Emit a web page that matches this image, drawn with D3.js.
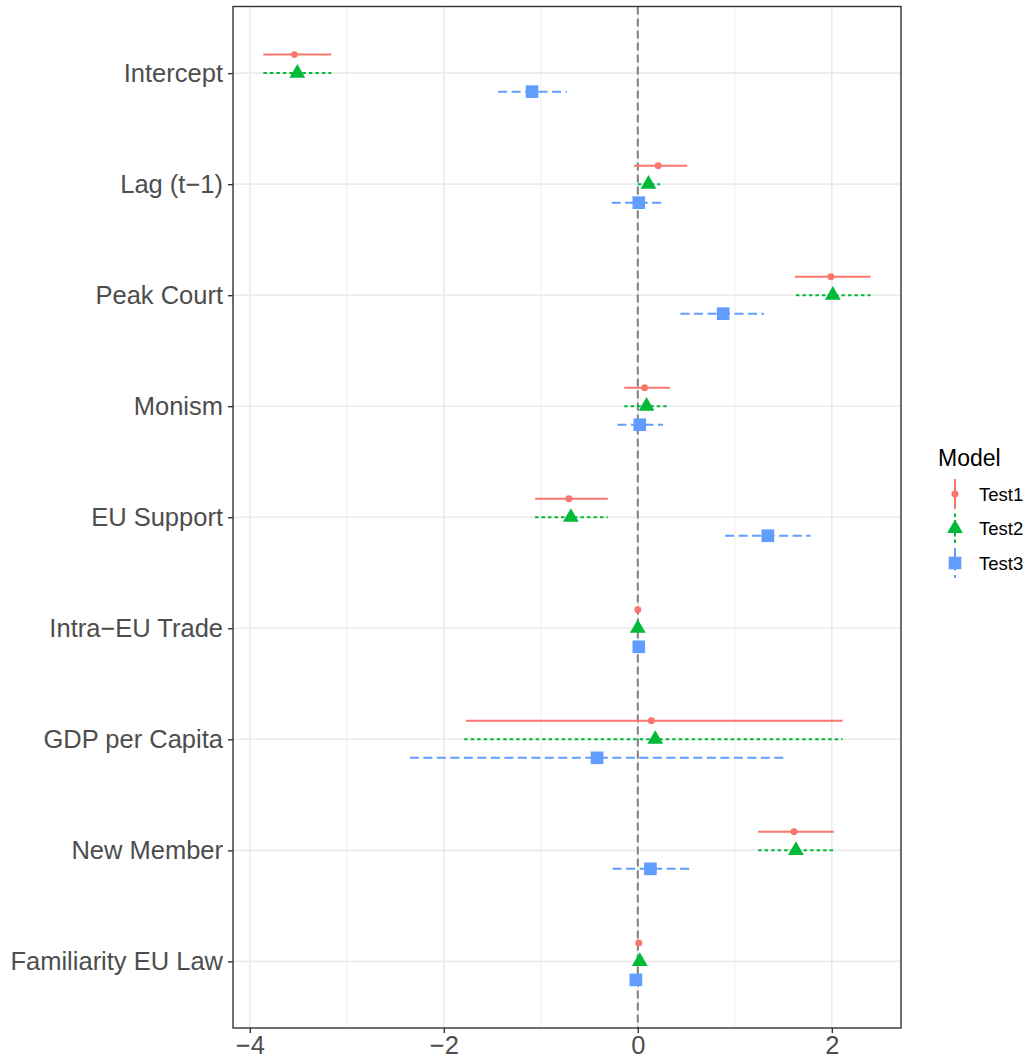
<!DOCTYPE html>
<html>
<head>
<meta charset="utf-8">
<script src="https://cdn.jsdelivr.net/npm/d3@7"></script>
<style>
  body { margin: 0; background: #fff; }
  text { font-family: "Liberation Sans", Arial, sans-serif; }
</style>
</head>
<body>
<div id="chart"></div>
<script>
// coefficient plot, three models dodged per term
var terms = ["Intercept", "Lag (t\u22121)", "Peak Court", "Monism", "EU Support",
             "Intra\u2212EU Trade", "GDP per Capita", "New Member", "Familiarity EU Law"];
var models = ["Test1", "Test2", "Test3"];

var estTest1  = [-3.54, 0.21, 1.99, 0.07, -0.71, 0.00, 0.14, 1.61, 0.01];
var lowTest1  = [-3.86, -0.04, 1.62, -0.14, -1.06, -0.01, -1.77, 1.24, 0.00];
var highTest1 = [-3.16, 0.51, 2.40, 0.33, -0.31, 0.01, 2.11, 2.02, 0.02];

var estTest2  = [-3.51, 0.11, 2.01, 0.09, -0.69, 0.00, 0.18, 1.63, 0.02];
var lowTest2  = [-3.86, 0.00, 1.63, -0.14, -1.06, -0.01, -1.79, 1.24, 0.01];
var highTest2 = [-3.16, 0.23, 2.40, 0.33, -0.31, 0.01, 2.11, 2.02, 0.03];

var estTest3  = [-1.09, 0.01, 0.88, 0.02, 1.34, 0.01, -0.42, 0.13, -0.02];
var lowTest3  = [-1.44, -0.27, 0.44, -0.21, 0.90, 0.00, -2.35, -0.26, -0.03];
var highTest3 = [-0.73, 0.25, 1.30, 0.26, 1.78, 0.02, 1.52, 0.53, -0.01];

var xTicks = [-4, -2, 0, 2];
var xMinor = [-3, -1, 1];

function drawChart() {
  var colors = { Test1: "#F8766D", Test2: "#00BA38", Test3: "#619CFF" };
  var dashes = { Test1: null, Test2: "3.5,3", Test3: "9,4.5" };

  var est = { Test1: estTest1, Test2: estTest2, Test3: estTest3 };
  var low = { Test1: lowTest1, Test2: lowTest2, Test3: lowTest3 };
  var high = { Test1: highTest1, Test2: highTest2, Test3: highTest3 };

  var rows = [];
  models.forEach(function(m) {
    terms.forEach(function(t, i) {
      rows.push({ model: m, term: t, est: est[m][i], lo: low[m][i], hi: high[m][i] });
    });
  });

  var width = 1031, height = 1063;
  var pLeft = 233, pRight = 901, pTop = 6.5, pBottom = 1028;

  var svg = d3.select("#chart").append("svg")
    .attr("width", width)
    .attr("height", height);

  svg.append("rect").attr("width", width).attr("height", height).attr("fill", "#fff");

  var xmin = d3.min(rows, function(d) { return d.lo; });
  var xmax = d3.max(rows, function(d) { return d.hi; });
  var pad = (xmax - xmin) * 0.05;

  var x = d3.scaleLinear().domain([xmin - pad, xmax + pad]).range([pLeft, pRight]);
  var y = d3.scalePoint().domain(terms).range([pTop, pBottom]).padding(0.6);
  var dodge = d3.scalePoint().domain(models).range([-y.step() / 6, y.step() / 6]);

  var fmt = function(v) { return v < 0 ? "\u2212" + Math.abs(v) : "" + v; };

  // grid
  var grid = svg.append("g");
  grid.selectAll(".minor").data(xMinor).enter().append("line")
    .attr("x1", x).attr("x2", x).attr("y1", pTop).attr("y2", pBottom)
    .attr("stroke", "#EBEBEB").attr("stroke-width", 0.8);
  grid.selectAll(".major").data(xTicks).enter().append("line")
    .attr("x1", x).attr("x2", x).attr("y1", pTop).attr("y2", pBottom)
    .attr("stroke", "#EBEBEB").attr("stroke-width", 1.6);
  grid.selectAll(".hrow").data(terms).enter().append("line")
    .attr("x1", pLeft).attr("x2", pRight)
    .attr("y1", function(d) { return y(d); }).attr("y2", function(d) { return y(d); })
    .attr("stroke", "#EBEBEB").attr("stroke-width", 1.6);

  // zero reference
  svg.append("line")
    .attr("x1", x(0)).attr("x2", x(0)).attr("y1", pTop).attr("y2", pBottom)
    .attr("stroke", "#7F7F7F").attr("stroke-width", 2).attr("stroke-dasharray", "8,4");

  // intervals
  svg.append("g").selectAll("line").data(rows).enter().append("line")
    .attr("x1", function(d) { return x(d.lo); })
    .attr("x2", function(d) { return x(d.hi); })
    .attr("y1", function(d) { return y(d.term) + dodge(d.model); })
    .attr("y2", function(d) { return y(d.term) + dodge(d.model); })
    .attr("stroke", function(d) { return colors[d.model]; })
    .attr("stroke-width", 2)
    .attr("stroke-dasharray", function(d) { return dashes[d.model]; });

  var shapes = {
    Test1: d3.symbol().type(d3.symbolCircle).size(38),
    Test2: d3.symbol().type(d3.symbolTriangle).size(108),
    Test3: d3.symbol().type(d3.symbolSquare).size(160)
  };

  svg.append("g").selectAll("path").data(rows).enter().append("path")
    .attr("d", function(d) { return shapes[d.model](); })
    .attr("transform", function(d) {
      return "translate(" + x(d.est) + "," + (y(d.term) + dodge(d.model)) + ")";
    })
    .attr("fill", function(d) { return colors[d.model]; });

  // panel border
  svg.append("rect")
    .attr("x", pLeft).attr("y", pTop).attr("width", pRight - pLeft).attr("height", pBottom - pTop)
    .attr("fill", "none").attr("stroke", "#333333").attr("stroke-width", 1.4);

  // axes
  var xAxis = svg.append("g")
    .attr("transform", "translate(0," + pBottom + ")")
    .call(d3.axisBottom(x).tickValues(xTicks).tickSize(5).tickPadding(3).tickFormat(fmt));
  var yAxis = svg.append("g")
    .attr("transform", "translate(" + pLeft + ",0)")
    .call(d3.axisLeft(y).tickSize(5).tickPadding(5));

  [xAxis, yAxis].forEach(function(a) {
    a.select(".domain").remove();
    a.selectAll(".tick line").attr("stroke", "#333333").attr("stroke-width", 1.4);
    a.selectAll(".tick text").attr("fill", "#4D4D4D").style("font-size", "25.5px")
      .style("font-family", "'Liberation Sans', Arial, sans-serif");
  });

  // legend
  var legend = svg.append("g").attr("transform", "translate(938,0)");
  legend.append("text").attr("x", 0).attr("y", 466)
    .style("font-size", "23px").attr("fill", "#000").text("Model");

  var keyY = d3.scalePoint().domain(models).range([494, 563]);
  var keys = legend.selectAll(".key").data(models).enter().append("g")
    .attr("transform", function(d) { return "translate(17," + keyY(d) + ")"; });
  keys.append("line")
    .attr("x1", 0).attr("x2", 0).attr("y1", -15).attr("y2", 15)
    .attr("stroke", function(d) { return colors[d]; })
    .attr("stroke-width", 2)
    .attr("stroke-dasharray", function(d) { return dashes[d]; });
  keys.append("path")
    .attr("d", function(d) { return shapes[d](); })
    .attr("fill", function(d) { return colors[d]; });
  keys.append("text").attr("x", 24).attr("y", 6.5)
    .style("font-size", "18.5px").attr("fill", "#000")
    .text(function(d) { return d; });
}

drawChart();
</script>
</body>
</html>
